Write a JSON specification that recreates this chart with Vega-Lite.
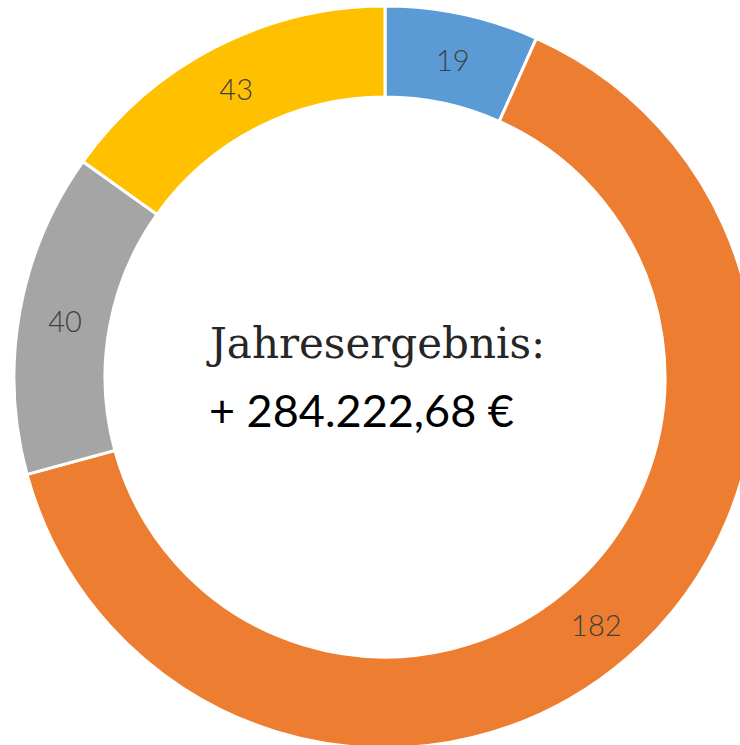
{
  "$schema": "https://vega.github.io/schema/vega-lite/v6.json",
  "width": 770,
  "height": 754,
  "padding": 0,
  "autosize": {"type": "none"},
  "background": "white",
  "view": {"stroke": null},
  "datasets": {
    "segments": [
      {"kategorie": "A", "wert": 19, "ord": 1},
      {"kategorie": "B", "wert": 182, "ord": 2},
      {"kategorie": "C", "wert": 40, "ord": 3},
      {"kategorie": "D", "wert": 43, "ord": 4}
    ]
  },
  "layer": [
    {
      "data": {"name": "segments"},
      "mark": {"type": "arc", "outerRadius": 371, "innerRadius": 280, "stroke": "white", "strokeWidth": 3},
      "encoding": {
        "theta": {"field": "wert", "type": "quantitative", "stack": true},
        "order": {"field": "ord", "type": "quantitative"},
        "color": {
          "field": "kategorie",
          "type": "nominal",
          "scale": {"domain": ["A", "B", "C", "D"], "range": ["#5B9BD5", "#ED7D31", "#A5A5A5", "#FFC000"]},
          "legend": null
        }
      }
    },
    {
      "data": {"name": "segments"},
      "mark": {"type": "text", "font": "Lato", "fontWeight": 300, "fontSize": 29, "color": "#404040", "align": "center", "baseline": "middle", "dy": 3},
      "encoding": {
        "theta": {"field": "wert", "type": "quantitative", "stack": true},
        "order": {"field": "ord", "type": "quantitative"},
        "radius": {"value": 325},
        "text": {"field": "wert", "type": "quantitative"}
      }
    },
    {
      "data": {"values": [{"t": "Jahresergebnis:"}]},
      "mark": {"type": "text", "font": "DejaVu Serif", "fontSize": 42, "color": "#262626", "align": "left", "baseline": "alphabetic", "dx": -175, "dy": -19},
      "encoding": {"text": {"field": "t", "type": "nominal"}}
    },
    {
      "data": {"values": [{"t": "+ 284.222,68 €"}]},
      "mark": {"type": "text", "font": "Lato", "fontSize": 45, "color": "#000000", "align": "left", "baseline": "alphabetic", "dx": -176, "dy": 50},
      "encoding": {"text": {"field": "t", "type": "nominal"}}
    }
  ]
}
